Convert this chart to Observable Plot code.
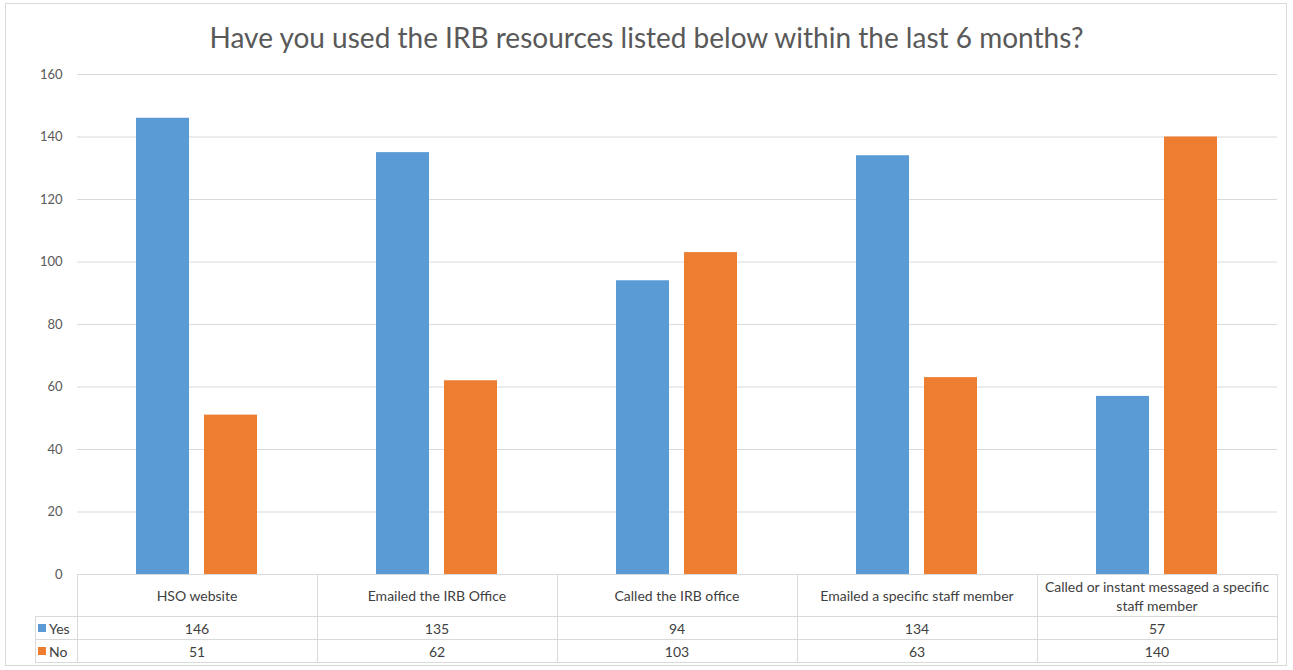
<!DOCTYPE html>
<html>
<head>
<meta charset="utf-8">
<script src="https://cdn.jsdelivr.net/npm/d3@7"></script>
<script src="https://cdn.jsdelivr.net/npm/@observablehq/plot@0.6"></script>
<style>
  html, body { margin: 0; padding: 0; background: #fff; }
  #wrap { position: relative; width: 1293px; height: 670px; font-family: Lato, "Open Sans", sans-serif; color: #595959; }
  #frame { position: absolute; left: 5px; top: 3px; width: 1282px; height: 663px; border: 1px solid #d9d9d9; box-sizing: border-box; }
  #title { position: absolute; left: 0; width: 1293px; top: 18px; text-align: center; font-size: 28px; color: #595959; line-height: 38px; }
  #chart { position: absolute; left: 0; top: 40px; }
  .cell { position: absolute; box-sizing: border-box; display: flex; align-items: center; justify-content: center; text-align: center; font-size: 14px; color: #404040; line-height: 19px; }
  .line { position: absolute; background: #d9d9d9; }
</style>
</head>
<body>
<div id="wrap">
  <div id="frame"></div>
  <div id="title">Have you used the IRB resources listed below within the last 6 months?</div>
  <div id="chart"></div>
</div>
<script>
const categories = ["HSO website", "Emailed the IRB Office", "Called the IRB office", "Emailed a specific staff member", "Called or instant messaged a specific staff member"];
const series = ["Yes", "No"];
const yesValues = [146, 135, 94, 134, 57];
const noValues = [51, 62, 103, 63, 140];
const yTicks = [0, 20, 40, 60, 80, 100, 120, 140, 160];
const colors = ["#5B9BD5", "#ED7D31"];

const data = categories.flatMap((c, i) => [
  {cat: c, series: "Yes", value: yesValues[i]},
  {cat: c, series: "No", value: noValues[i]}
]);

const chart = Plot.plot({
  width: 1293,
  height: 550,
  marginLeft: 77,
  marginRight: 16,
  marginTop: 34,
  marginBottom: 16,
  style: {fontFamily: "Lato, 'Open Sans', sans-serif", background: "transparent"},
  fx: {domain: categories, padding: 0, axis: null},
  x: {domain: series, axis: null, paddingInner: 0.217, paddingOuter: 0.848},
  y: {domain: [0, 160]},
  color: {domain: series, range: colors},
  marks: [
    Plot.gridY(yTicks, {stroke: "#d9d9d9", strokeOpacity: 1}),
    Plot.axisY(yTicks, {tickSize: 0, tickPadding: 15, fontSize: 13, fill: "#595959", label: null}),
    Plot.barY(data, {fx: "cat", x: "series", y: "value", fill: "series"})
  ]
});
document.getElementById("chart").appendChild(chart);

// data table beneath the chart
(function () {
  const wrap = document.getElementById("wrap");
  const tLeft = 77, colW = 240, tTop = 574, headH = 42, rowH = 23, legendLeft = 35;
  function addLine(x, y, w, h) {
    const d = document.createElement("div");
    d.className = "line";
    Object.assign(d.style, {left: x + "px", top: y + "px", width: w + "px", height: h + "px"});
    wrap.appendChild(d);
  }
  function addCell(x, y, w, h, html, extra) {
    const d = document.createElement("div");
    d.className = "cell";
    Object.assign(d.style, {left: x + "px", top: y + "px", width: w + "px", height: h + "px"}, extra || {});
    d.innerHTML = html;
    wrap.appendChild(d);
  }
  const tRight = tLeft + colW * categories.length;
  const tBottom = tTop + headH + rowH * 2;
  addLine(tLeft, tTop, tRight - tLeft + 1, 1);
  addLine(legendLeft, tTop + headH, tRight - legendLeft + 1, 1);
  addLine(legendLeft, tTop + headH + rowH, tRight - legendLeft + 1, 1);
  addLine(legendLeft, tBottom, tRight - legendLeft + 1, 1);
  addLine(legendLeft, tTop + headH, 1, rowH * 2 + 1);
  for (let i = 0; i <= categories.length; i++) addLine(tLeft + colW * i, tTop, 1, tBottom - tTop + 1);
  categories.forEach((c, i) => addCell(tLeft + colW * i + 6, tTop + 1, colW - 12, headH - 1, c));
  const rows = [yesValues, noValues];
  series.forEach((s, r) => {
    const y = tTop + headH + rowH * r + 1;
    addCell(legendLeft + 3, y, tLeft - legendLeft - 3, rowH - 1,
      `<span style="display:inline-block;width:8px;height:8px;background:${colors[r]};margin-right:3px"></span>${s}`,
      {justifyContent: "flex-start"});
    rows[r].forEach((v, i) => addCell(tLeft + colW * i, y, colW, rowH - 1, String(v)));
  });
})();
</script>
</body>
</html>
